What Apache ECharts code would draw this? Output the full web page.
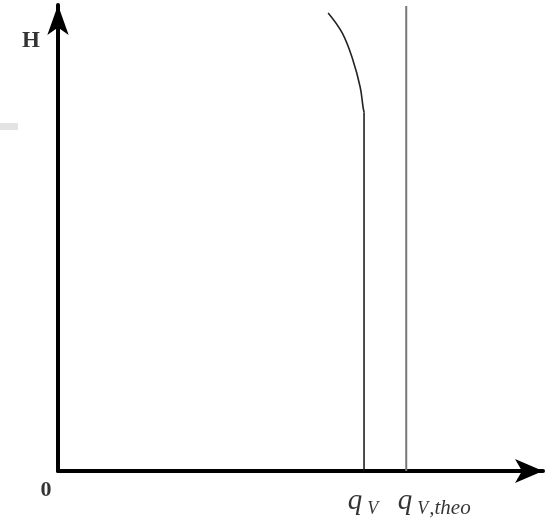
<!DOCTYPE html>
<html>
<head>
<meta charset="utf-8">
<script src="https://cdn.jsdelivr.net/npm/echarts@6/dist/echarts.min.js"></script>
<style>html,body{margin:0;padding:0;background:#fff;}#c{width:547px;height:522px;}</style>
</head>
<body>
<div id="c"></div>
<script>
// Data (abstract units: x 0..100, y 0..100)
const qV = 63.1;
const qVtheo = 71.8;
const cornerH = 77.0;
const theoTop = 99.8;
const curveX = [63.1, 62.9, 62.3, 60.8, 58.6, 55.7];
const curveY = [77.0, 78.1, 82.4, 88.2, 94.0, 98.3];
// axis annotations
const tickValues = [qV, qVtheo];
const tickLabels = ['{q|q}{s|V}', '{q|q}{s|V}{t|,theo}'];
const axisNameY = 'H';
const originLabel = '0';

const chart = echarts.init(document.getElementById('c'));
const serif = '"Liberation Serif","DejaVu Serif",serif';
const rich = {
  q: {fontFamily: serif, fontStyle: 'italic', fontSize: 29, color: '#000'},
  s: {fontFamily: serif, fontStyle: 'italic', fontSize: 18, color: '#000', verticalAlign: 'bottom', padding: [0, 0, -2, 5]},
  t: {fontFamily: serif, fontStyle: 'italic', fontSize: 21, color: '#000', verticalAlign: 'bottom', padding: [0, 0, -3, 1]}
};
const labelOffsets = [[-1, 0], [28, 0]];
chart.setOption({
  animation: false,
  grid: {left: 58, right: 4, top: 5, bottom: 51},
  xAxis: {
    type: 'value', min: 0, max: 100,
    splitLine: {show: false},
    axisTick: {show: false},
    axisLabel: {show: false},
    axisLine: {show: true, lineStyle: {color: '#000', width: 4}, symbol: ['none', 'arrow'], symbolSize: [18, 28]}
  },
  yAxis: {
    type: 'value', min: 0, max: 100,
    splitLine: {show: false},
    axisTick: {show: false},
    axisLabel: {show: false},
    axisLine: {show: true, lineStyle: {color: '#000', width: 4}, symbol: ['none', 'arrow'], symbolSize: [16, 30]}
  },
  graphic: [
    {type: 'rect', left: 0, top: 123, shape: {width: 18, height: 7}, style: {fill: '#e3e3e3'}}
  ],
  series: [
    {type: 'line', data: [[qV, 0], [qV, cornerH]], symbol: 'none', lineStyle: {color: '#111', width: 1.5}},
    {type: 'line', data: curveX.map((x, i) => [x, curveY[i]]), symbol: 'none', smooth: 0.4, lineStyle: {color: '#222', width: 1.6}},
    {type: 'line', data: [[qVtheo, 0], [qVtheo, theoTop]], symbol: 'none', lineStyle: {color: '#777', width: 2}},
    {
      type: 'scatter', symbolSize: 0, silent: true, z: 10,
      data: tickValues.map((v, i) => ({
        value: [v, 0],
        label: {show: true, position: 'bottom', distance: 16, offset: labelOffsets[i], formatter: tickLabels[i], rich: rich}
      })).concat([
        {value: [0, 0], label: {show: true, position: 'bottom', distance: 8, offset: [-12, 0], formatter: originLabel, fontFamily: serif, fontWeight: 'bold', fontSize: 22, color: '#000'}},
        {value: [0, 100], label: {show: true, position: 'bottom', distance: 25, offset: [-27, 0], formatter: axisNameY, fontFamily: serif, fontWeight: 'bold', fontSize: 23, color: '#000'}}
      ])
    }
  ]
});
</script>
</body>
</html>
